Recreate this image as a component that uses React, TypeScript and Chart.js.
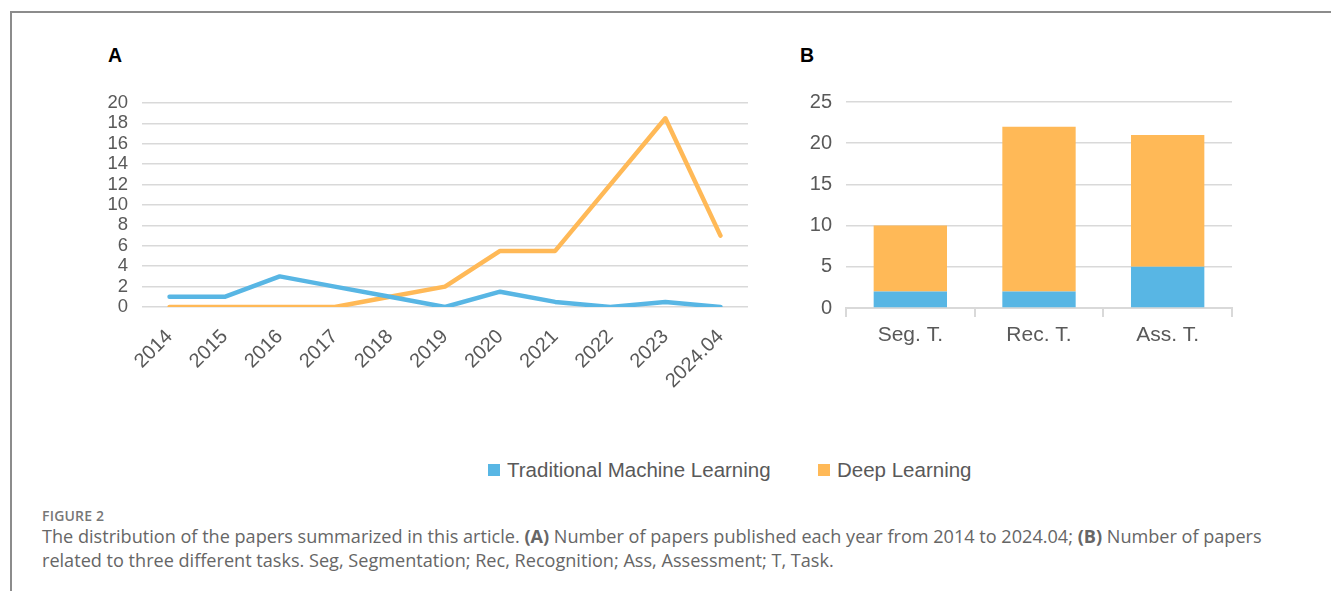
import React, { useEffect, useRef } from "react";
import { Chart, registerables } from "chart.js";

Chart.register(...registerables);

const years = ["2014", "2015", "2016", "2017", "2018", "2019", "2020", "2021", "2022", "2023", "2024.04"];
const traditionalByYear = [1, 1, 3, 2, 1, 0, 1.5, 0.5, 0, 0.5, 0];
const deepByYear = [0, 0, 0, 0, 1, 2, 5.5, 5.5, 12, 18.5, 7];

const tasks = ["Seg. T.", "Rec. T.", "Ass. T."];
const traditionalByTask = [2, 2, 5];
const deepByTask = [8, 20, 16];

const BLUE = "#58B6E4";
const ORANGE = "#FFB957";
const GRID = "#D9D9D9";
const TICK = "#595959";
const FONT = "'Liberation Sans', Arial, sans-serif";

function LineChartA() {
  const ref = useRef<HTMLCanvasElement | null>(null);
  useEffect(() => {
    if (!ref.current) return;
    const chart = new Chart(ref.current, {
      type: "line",
      data: {
        labels: years,
        datasets: [
          {
            label: "Traditional Machine Learning",
            data: traditionalByYear,
            borderColor: BLUE,
            backgroundColor: BLUE,
            borderWidth: 4.5,
            pointRadius: 0,
            tension: 0,
            borderCapStyle: "round",
            borderJoinStyle: "round",
          },
          {
            label: "Deep Learning",
            data: deepByYear,
            borderColor: ORANGE,
            backgroundColor: ORANGE,
            borderWidth: 4.5,
            pointRadius: 0,
            tension: 0,
            borderCapStyle: "round",
            borderJoinStyle: "round",
          },
        ],
      },
      options: {
        animation: false,
        responsive: false,
        maintainAspectRatio: false,
        layout: { padding: { top: 18, right: 12, left: 0, bottom: 0 } },
        plugins: { legend: { display: false }, tooltip: { enabled: false } },
        scales: {
          x: {
            offset: true,
            grid: { display: false, drawTicks: false },
            border: { display: false },
            ticks: {
              color: TICK,
              font: { family: FONT, size: 20 },
              minRotation: 45,
              maxRotation: 45,
              padding: 18,
              autoSkip: false,
            },
            afterFit: (s: any) => {
              s.height = 103;
              s.paddingLeft = 0;
              s.paddingRight = 0;
            },
          },
          y: {
            min: 0,
            max: 20,
            ticks: {
              stepSize: 2,
              autoSkip: false,
              color: TICK,
              font: { family: FONT, size: 18.5, lineHeight: 1 },
              padding: 14,
            },
            grid: { color: GRID, lineWidth: 1.5, drawTicks: false },
            border: { display: false },
            afterFit: (s: any) => {
              s.width = 52;
              s.paddingTop = 0;
              s.paddingBottom = 0;
            },
          },
        },
      },
    });
    return () => chart.destroy();
  }, []);
  return (
    <canvas
      ref={ref}
      width={670}
      height={325}
      style={{ position: "absolute", left: 90, top: 85, width: 670, height: 325 }}
    />
  );
}

function BarChartB() {
  const ref = useRef<HTMLCanvasElement | null>(null);
  useEffect(() => {
    if (!ref.current) return;
    const chart = new Chart(ref.current, {
      type: "bar",
      data: {
        labels: tasks,
        datasets: [
          {
            label: "Traditional Machine Learning",
            data: traditionalByTask,
            backgroundColor: BLUE,
            borderWidth: 0,
            categoryPercentage: 1,
            barPercentage: 0.57,
          },
          {
            label: "Deep Learning",
            data: deepByTask,
            backgroundColor: ORANGE,
            borderWidth: 0,
            categoryPercentage: 1,
            barPercentage: 0.57,
          },
        ],
      },
      options: {
        animation: false,
        responsive: false,
        maintainAspectRatio: false,
        layout: { padding: { top: 17, right: 18, left: 0, bottom: 0 } },
        plugins: { legend: { display: false }, tooltip: { enabled: false } },
        scales: {
          x: {
            stacked: true,
            grid: {
              drawOnChartArea: false,
              drawTicks: true,
              tickLength: 9,
              color: GRID,
              lineWidth: 2,
              offset: true,
            },
            border: { display: true, color: GRID, width: 2 },
            ticks: {
              color: TICK,
              font: { family: FONT, size: 21 },
              padding: 6,
            },
            afterFit: (s: any) => {
              s.height = 47;
              s.paddingLeft = 0;
              s.paddingRight = 0;
            },
          },
          y: {
            stacked: true,
            min: 0,
            max: 25,
            ticks: {
              stepSize: 5,
              color: TICK,
              font: { family: FONT, size: 20 },
              padding: 14,
            },
            grid: { color: GRID, lineWidth: 1.5, drawTicks: false },
            border: { display: false },
            afterFit: (s: any) => {
              s.width = 66;
              s.paddingTop = 0;
              s.paddingBottom = 0;
            },
          },
        },
      },
    });
    return () => chart.destroy();
  }, []);
  return (
    <canvas
      ref={ref}
      width={470}
      height={270}
      style={{ position: "absolute", left: 780, top: 85, width: 470, height: 270 }}
    />
  );
}

function LegendItem({ color, label, left }: { color: string; label: string; left: number }) {
  return (
    <div style={{ position: "absolute", left, top: 457, height: 26, display: "flex", alignItems: "center", whiteSpace: "nowrap" }}>
      <span style={{ display: "inline-block", width: 12, height: 12, background: color, marginRight: 7 }} />
      <span style={{ fontFamily: FONT, fontSize: 20.5, color: TICK }}>{label}</span>
    </div>
  );
}

export default function App() {
  return (
    <div
      style={{
        position: "absolute",
        left: 0,
        top: 0,
        width: 1331,
        height: 591,
        overflow: "hidden",
        background: "#fff",
      }}
    >
      <div
        style={{
          position: "absolute",
          left: 10,
          top: 11,
          width: 1400,
          height: 700,
          borderTop: "2px solid #8c8c8c",
          borderLeft: "2px solid #8c8c8c",
        }}
      />
      <div style={{ position: "absolute", left: 108, top: 44, fontFamily: FONT, fontWeight: "bold", fontSize: 19.5, color: "#000" }}>A</div>
      <div style={{ position: "absolute", left: 800, top: 44, fontFamily: FONT, fontWeight: "bold", fontSize: 19.5, color: "#000" }}>B</div>
      <LineChartA />
      <BarChartB />
      <LegendItem color={BLUE} label="Traditional Machine Learning" left={488} />
      <LegendItem color={ORANGE} label="Deep Learning" left={818} />
      <div
        style={{
          position: "absolute",
          left: 42,
          top: 506,
          fontFamily: "'Open Sans', sans-serif",
          fontSize: 14,
          fontWeight: 600,
          color: "#777",
          letterSpacing: 0.2,
        }}
      >
        FIGURE 2
      </div>
      <div
        style={{
          position: "absolute",
          left: 42,
          top: 524,
          fontFamily: "'Open Sans', sans-serif",
          fontSize: 18.1,
          lineHeight: "24px",
          color: "#666",
          whiteSpace: "nowrap",
        }}
      >
        The distribution of the papers summarized in this article. <b>(A)</b> Number of papers published each year from 2014 to 2024.04; <b>(B)</b> Number of papers
        <br />
        related to three different tasks. Seg, Segmentation; Rec, Recognition; Ass, Assessment; T, Task.
      </div>
    </div>
  );
}
